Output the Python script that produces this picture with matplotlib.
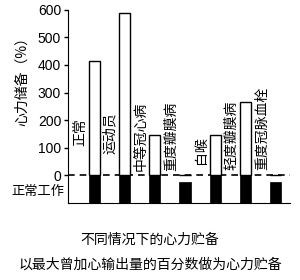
"""Heart reserve under different conditions (bar chart)."""

import matplotlib
matplotlib.use("Agg")
import matplotlib.pyplot as plt

plt.rcParams['font.family'] = ['Noto Sans CJK SC', 'DejaVu Sans']

# case names, reserve above normal work (%), bottom of the "normal work" bar
cases = ["正常", "运动员", "中等冠心病", "重度瓣膜病", "白喉", "轻度瓣膜病", "重度冠脉血栓"]
reserve = [415, 588, 145, 0, 145, 265, 0]
normal_top = [0, 0, 0, -25, 0, 0, -25]
label_base = [108, 76, 15, 15, 40, 20, 20]
yticks = [0, 100, 200, 300, 400, 500, 600]

fig = plt.figure(figsize=(3.0, 2.8), dpi=100)
ax = fig.add_axes([0.227, 0.275, 0.74, 0.69])

x = list(range(len(cases)))
w = 0.37

# white reserve bars
ax.bar(x, reserve, width=w, bottom=0, color="white", edgecolor="black", linewidth=1.0, zorder=2)
# black "normal work" bars below the zero line
heights = [t - (-100) for t in normal_top]
ax.bar(x, heights, width=w, bottom=-100, color="black", edgecolor="black", linewidth=0.5, zorder=2)

for xi, name, yb in zip(x, cases, label_base):
    ax.text(xi - 0.47, yb, name, rotation=90, ha="center", va="bottom",
            fontsize=10, zorder=3)

ax.axhline(0, color="black", linestyle=(0, (4, 3)), linewidth=1.2, zorder=1)

ax.set_xlim(-0.86, 6.47)
ax.set_ylim(-100, 600)
ax.set_yticks(yticks)
ax.set_yticklabels([str(v) for v in yticks], family=["Liberation Sans"], fontsize=10)
ax.set_xticks([])
ax.tick_params(axis="y", direction="out", length=3, width=1, pad=2)
ax.spines["top"].set_visible(False)
ax.spines["right"].set_visible(False)

ax.text(-0.97, -60, "正常工作", ha="right", va="center", fontsize=9.5)
fig.text(0.075, 0.72, "心力储备（%）", rotation=90, ha="center", va="center", fontsize=10)

fig.text(0.5, 0.145, "不同情况下的心力贮备", ha="center", va="center", fontsize=10)
fig.text(0.5, 0.055, "以最大曾加心输出量的百分数做为心力贮备", ha="center", va="center", fontsize=10)

fig.savefig("out.png", dpi=100)
